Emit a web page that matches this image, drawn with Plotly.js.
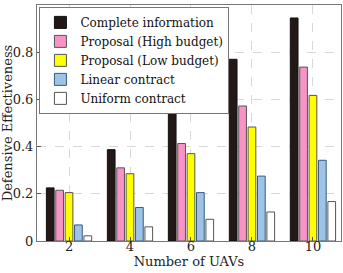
<!DOCTYPE html>
<html><head><meta charset="utf-8">
<script src="https://cdn.plot.ly/plotly-3.0.1.min.js"></script>
<style>html,body{margin:0;padding:0;background:#fff}#c{width:343px;height:273px}</style>
</head><body><div id="c"></div>
<script>
const uavs = [2, 4, 6, 8, 10];
const seriesNames = ["Complete information", "Proposal (High budget)", "Proposal (Low budget)", "Linear contract", "Uniform contract"];
const complete = [0.225, 0.387, 0.590, 0.770, 0.945];
const highBudget = [0.215, 0.310, 0.413, 0.572, 0.737];
const lowBudget = [0.205, 0.285, 0.370, 0.483, 0.617];
const linear = [0.068, 0.142, 0.205, 0.275, 0.342];
const uniform = [0.022, 0.060, 0.092, 0.123, 0.167];
const colors = ["#231815", "#f993c6", "#ffff00", "#9dc3e6", "#ffffff"];
const lines = ["#111111", "#555555", "#555555", "#3b5a7a", "#555555"];
const vals = [complete, highBudget, lowBudget, linear, uniform];
const font = "DejaVu Serif";
const data = vals.map((v, i) => ({
  type: "bar", x: uavs, y: v, name: seriesNames[i],
  marker: {color: colors[i], line: {color: lines[i], width: 1}}
}));
const layout = {
  width: 343, height: 273,
  margin: {l: 37, r: 2, t: 5, b: 32},
  paper_bgcolor: "#fff", plot_bgcolor: "#fff",
  barmode: "group", bargap: 0.23, bargroupgap: 0.18,
  font: {family: font, size: 13, color: "#222"},
  showlegend: true,
  legend: {x: 0.008, y: 0.992, xanchor: "left", yanchor: "top", bgcolor: "#fff",
           bordercolor: "#777", borderwidth: 1, font: {family: font, size: 12, color: "#111"},
           tracegroupgap: 0, itemwidth: 30},
  xaxis: {range: [0.95, 10.92], tickvals: uavs, ticktext: uavs.map(String),
          ticks: "inside", ticklen: 4, tickcolor: "#555", showline: true, mirror: true,
          linecolor: "#777", linewidth: 1, showgrid: true, gridcolor: "#d8d8d8", griddash: "dash",
          zeroline: false, tickfont: {family: font, size: 13}, ticklabelstandoff: -7,
          title: {text: "Number of UAVs", font: {family: font, size: 13}, standoff: 0}},
  yaxis: {range: [0, 1], tickvals: [0, 0.2, 0.4, 0.6, 0.8, 1], ticktext: ["0", "0.2", "0.4", "0.6", "0.8", "1"],
          ticks: "inside", ticklen: 4, tickcolor: "#555", showline: true, mirror: true,
          linecolor: "#777", linewidth: 1, showgrid: true, gridcolor: "#d8d8d8", griddash: "dash",
          zeroline: false, tickfont: {family: font, size: 13},
          title: {text: "Defensive Effectiveness", font: {family: font, size: 13}, standoff: 2}}
};
Plotly.newPlot("c", data, layout, {displayModeBar: false, staticPlot: true});
</script></body></html>
